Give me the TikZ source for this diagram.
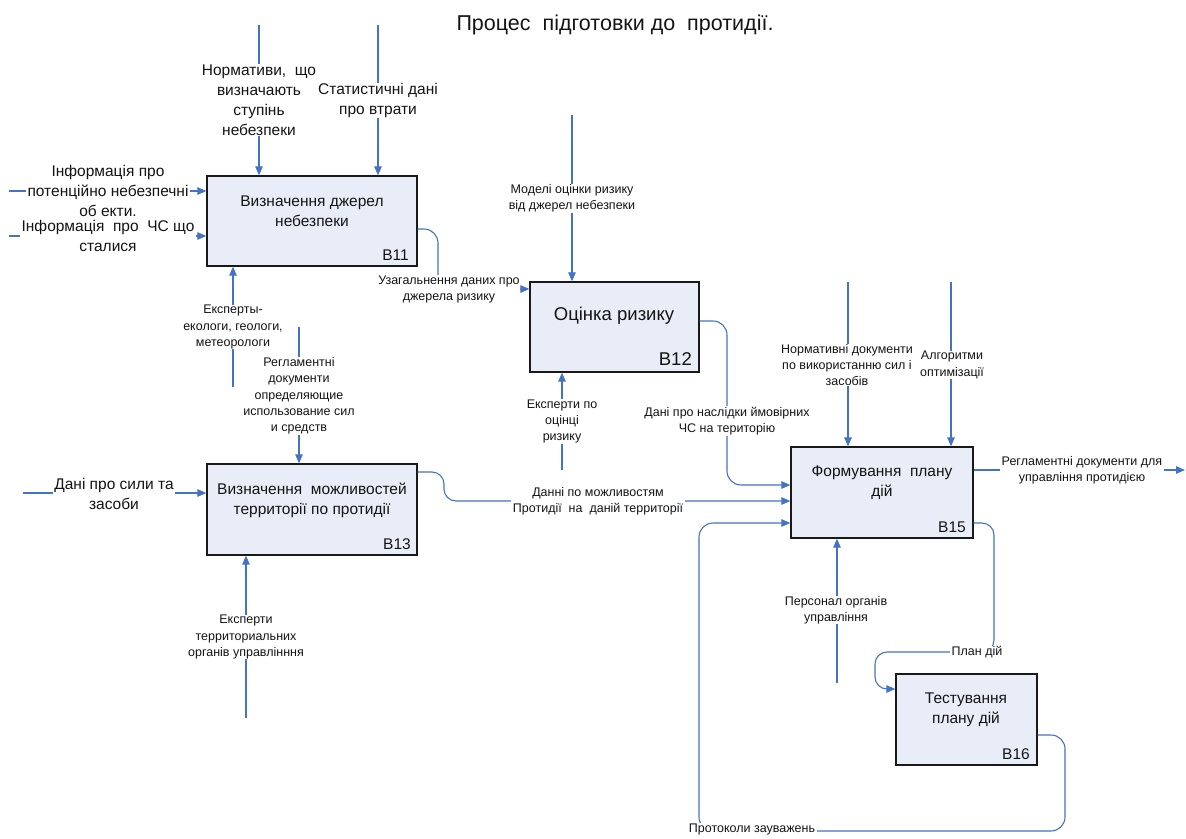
\documentclass[tikz,border=0pt]{standalone}
\usepackage{fontspec}
\setmainfont{Liberation Sans}
\usetikzlibrary{arrows.meta}
\definecolor{lineblue}{RGB}{68,114,196}
\definecolor{boxfill}{RGB}{232,237,247}
\definecolor{txt}{RGB}{20,20,20}
\newcommand{\FBig}{\fontsize{15.5}{20}\selectfont}
\newcommand{\FSmall}{\fontsize{12.5}{16.3}\selectfont}
\newcommand{\FLarge}{\fontsize{18.5}{22}\selectfont}
\newcommand{\FTitle}{\fontsize{21.5}{25}\selectfont}
\tikzset{
  procbox/.style={draw=black!90, line width=1.3pt, fill=boxfill, inner sep=0pt},
  boxtext/.style={font=\FBig, text=txt, align=center, inner sep=0pt},
  numlab/.style={font=\FBig, text=txt, anchor=east, inner sep=0pt},
  arr/.style={draw=lineblue, line width=1.1pt, -{Triangle[length=9pt,width=7.5pt]}},
  blab/.style={font=\FBig, text=txt, align=center, fill=white, inner xsep=1.5pt, inner ysep=0.5pt},
  slab/.style={font=\FSmall, text=txt, align=center, fill=white, inner xsep=1.5pt, inner ysep=0.5pt}
}
\begin{document}
\begin{tikzpicture}[x=1pt,y=-1pt]
\useasboundingbox (0,0) rectangle (1186,838);

% title
\node[font=\FTitle, text=txt, inner sep=0pt] (title) at (615,25) {Процес\ \ підготовки до\ \ протидії.};

% boxes
\node[procbox, minimum width=210pt, minimum height=90pt] (b11) at (312,221) {};
\node[procbox, minimum width=169pt, minimum height=90pt] (b12) at (614.5,327) {};
\node[procbox, minimum width=210pt, minimum height=91pt] (b13) at (312,509.5) {};
\node[procbox, minimum width=182pt, minimum height=91pt] (b15) at (882,492.5) {};
\node[procbox, minimum width=141pt, minimum height=91pt] (b16) at (966.5,719.5) {};

\node[boxtext] (t11) at (312,211) {Визначення джерел\\небезпеки};
\node[boxtext, font=\FLarge] (t12) at (614,316) {Оцінка ризику};
\node[boxtext] (t13) at (312,500) {Визначення\ \ можливостей\\территорії по протидії};
\node[boxtext] (t15) at (882,483) {Формування\ \ плану\\дій};
\node[boxtext] (t16) at (966,709.5) {Тестування\\плану дій};

\node[numlab] (n11) at (409,255) {B11};
\node[numlab, font=\FLarge] (n12) at (692,359) {B12};
\node[numlab] (n13) at (411,544) {B13};
\node[numlab] (n15) at (966,527) {B15};
\node[numlab] (n16) at (1030,754) {B16};

% coordinates
\coordinate (s1) at (259,25);
\coordinate (s2) at (378,25);
\coordinate (s3) at (9,191);
\coordinate (s4) at (9,236);
\coordinate (s5) at (233,387);
\coordinate (s6) at (299,327);
\coordinate (s7) at (23,493);
\coordinate (s8) at (246,718);
\coordinate (p9s) at (0,229);
\coordinate (p9) at (438,289);
\coordinate (s10) at (572,115);
\coordinate (s11) at (562,470);
\coordinate (p12a) at (727,321);
\coordinate (p12b) at (727,485);
\coordinate (p13a) at (444,472);
\coordinate (p13b) at (444,501);
\coordinate (s14) at (848,282);
\coordinate (s15) at (951,282);
\coordinate (e16) at (1185,470);
\coordinate (s17) at (837,683);
\coordinate (p18a) at (994,523);
\coordinate (p18b) at (994,652);
\coordinate (p18c) at (875,652);
\coordinate (p18d) at (875,689);
\coordinate (p19a) at (1065,735);
\coordinate (p19b) at (1065,831);
\coordinate (p19c) at (699,831);
\coordinate (p19d) at (699,523);

% connectors
\draw[arr] (s1) -- (s1 |- b11.north);
\draw[arr] (s2) -- (s2 |- b11.north);
\draw[arr] (s3) -- (s3 -| b11.west);
\draw[arr] (s4) -- (s4 -| b11.west);
\draw[arr] (s5) -- (s5 |- b11.south);
\draw[arr] (s6) -- (s6 |- b13.north);
\draw[arr] (s7) -- (s7 -| b13.west);
\draw[arr] (s8) -- (s8 |- b13.south);
\draw[arr, rounded corners=14pt] (b11.east |- p9s) -- (p9 |- p9s) -- (p9) -- (p9 -| b12.west);
\draw[arr] (s10) -- (s10 |- b12.north);
\draw[arr] (s11) -- (s11 |- b12.south);
\draw[arr, rounded corners=14pt] (b12.east |- p12a) -- (p12a) -- (p12b) -- (p12b -| b15.west);
\draw[arr, rounded corners=12pt] (b13.east |- p13a) -- (p13a) -- (p13b) -- (p13b -| b15.west);
\draw[arr] (s14) -- (s14 |- b15.north);
\draw[arr] (s15) -- (s15 |- b15.north);
\draw[arr] (b15.east |- e16) -- (e16);
\draw[arr] (s17) -- (s17 |- b15.south);
\draw[arr, rounded corners=12pt] (b15.east |- p18a) -- (p18a) -- (p18b) -- (p18c) -- (p18d) -- (p18d -| b16.west);
\draw[arr, rounded corners=14pt] (b16.east |- p19a) -- (p19a) -- (p19b) -- (p19c) -- (p19d) -- (p19d -| b15.west);

% labels
\node[blab] (l1) at (259,100) {Нормативи,\ \ що\\визначають\\ступінь\\небезпеки};
\node[blab] (l2) at (378,100.5) {Статистичні дані\\про втрати};
\node[blab] (l3) at (108,191) {Інформація про\\потенційно небезпечні\\об екти.};
\node[blab] (l4) at (108,236) {Інформація\ \ про\ \ ЧС що\\сталися};
\node[slab] (l5) at (233,327) {Експерты-\\екологи, геологи,\\метеорологи};
\node[slab] (l6) at (299,396) {Регламентні\\документи\\определяющие\\использование сил\\и средств};
\node[blab] (l7) at (114,494) {Дані про сили та\\засоби};
\node[slab] (l8) at (246,637) {Експерти\\территориальних\\органів управлінння};
\node[slab, inner xsep=0.5pt] (l9) at (449,289.5) {Узагальнення даних про\\джерела ризику};
\node[slab] (l10) at (572,198.5) {Моделі оцінки ризику\\від джерел небезпеки};
\node[slab] (l11) at (562,421.5) {Експерти по\\оцінці\\ризику};
\node[slab] (l12) at (727,421) {Дані про наслідки ймовірних\\ЧС на територію};
\node[slab] (l13) at (598,501.5) {Данні по можливостям\\Протидії\ \ на\ \ даній территорії};
\node[slab] (l14) at (847,365) {Нормативні документи\\по використанню сил і\\засобів};
\node[slab] (l15) at (952,365) {Алгоритми\\оптимізації};
\node[slab] (l16) at (1082,470) {Регламентні документи для\\управління протидією};
\node[slab] (l17) at (836,610) {Персонал органів\\управління};
\node[slab] (l18) at (977,652) {План дій};
\node[slab] (l19) at (752,829) {Протоколи зауважень};
\end{tikzpicture}
\end{document}
